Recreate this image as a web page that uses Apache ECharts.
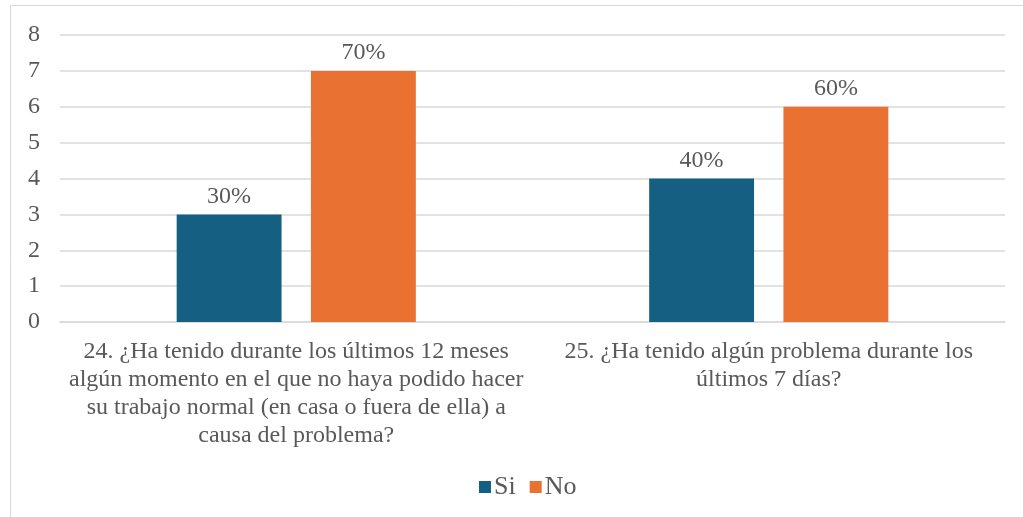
<!DOCTYPE html>
<html><head><meta charset="utf-8">
<script src="https://cdn.jsdelivr.net/npm/echarts@6/dist/echarts.min.js"></script>
<style>html,body{margin:0;padding:0;background:#fff}#c{width:1023px;height:517px}</style>
</head><body><div id="c"></div>
<script>
var categories = [
  "24. ¿Ha tenido durante los últimos 12 meses\nalgún momento en el que no haya podido hacer\nsu trabajo normal (en casa o fuera de ella) a\ncausa del problema?",
  "25. ¿Ha tenido algún problema durante los\núltimos 7 días?"
];
var siValues = [3, 4];
var noValues = [7, 6];
var siLabels = ["30%", "40%"];
var noLabels = ["70%", "60%"];
var yTicks = [0, 1, 2, 3, 4, 5, 6, 7, 8];

var font = "'Liberation Serif', 'Times New Roman', serif";
var txt = "#595959";
var fs = 24;
var chart = echarts.init(document.getElementById('c'), null, {renderer: 'canvas'});
chart.setOption({
  animation: false,
  textStyle: {fontFamily: font},
  graphic: [{type: 'rect', shape: {x: 10.5, y: 5.5, width: 1030, height: 530},
    style: {fill: 'none', stroke: '#d9d9d9', lineWidth: 1}, silent: true}],
  grid: {left: 60, right: 18, top: 35, bottom: 195, containLabel: false},
  legend: {
    data: ['Si', 'No'], bottom: 12, left: 474, itemWidth: 12, itemHeight: 12, itemGap: 14,
    icon: 'rect', textStyle: {fontFamily: font, fontSize: 26, color: txt, padding: [0, 0, 0, -2]}
  },
  xAxis: {
    type: 'category', data: categories,
    axisLine: {show: true, lineStyle: {color: '#d9d9d9', width: 1.5}},
    axisTick: {show: false},
    axisLabel: {fontFamily: font, fontSize: fs, color: txt, lineHeight: 28, margin: 16, interval: 0, align: 'center'}
  },
  yAxis: {
    type: 'value', min: yTicks[0], max: yTicks[yTicks.length - 1], interval: 1,
    axisLine: {show: false}, axisTick: {show: false},
    splitLine: {lineStyle: {color: '#d9d9d9', width: 1.5}},
    axisLabel: {fontFamily: font, fontSize: fs, color: txt, margin: 20}
  },
  series: [
    {name: 'Si', type: 'bar', data: siValues, barWidth: '22.2%', barGap: '28%',
     itemStyle: {color: '#156082'},
     label: {show: true, position: 'top', distance: 6, fontFamily: font, fontSize: fs, color: txt,
       formatter: function (p) { return siLabels[p.dataIndex]; }}},
    {name: 'No', type: 'bar', data: noValues, barWidth: '22.2%',
     itemStyle: {color: '#e97132'},
     label: {show: true, position: 'top', distance: 6, fontFamily: font, fontSize: fs, color: txt,
       formatter: function (p) { return noLabels[p.dataIndex]; }}}
  ]
});
</script></body></html>
